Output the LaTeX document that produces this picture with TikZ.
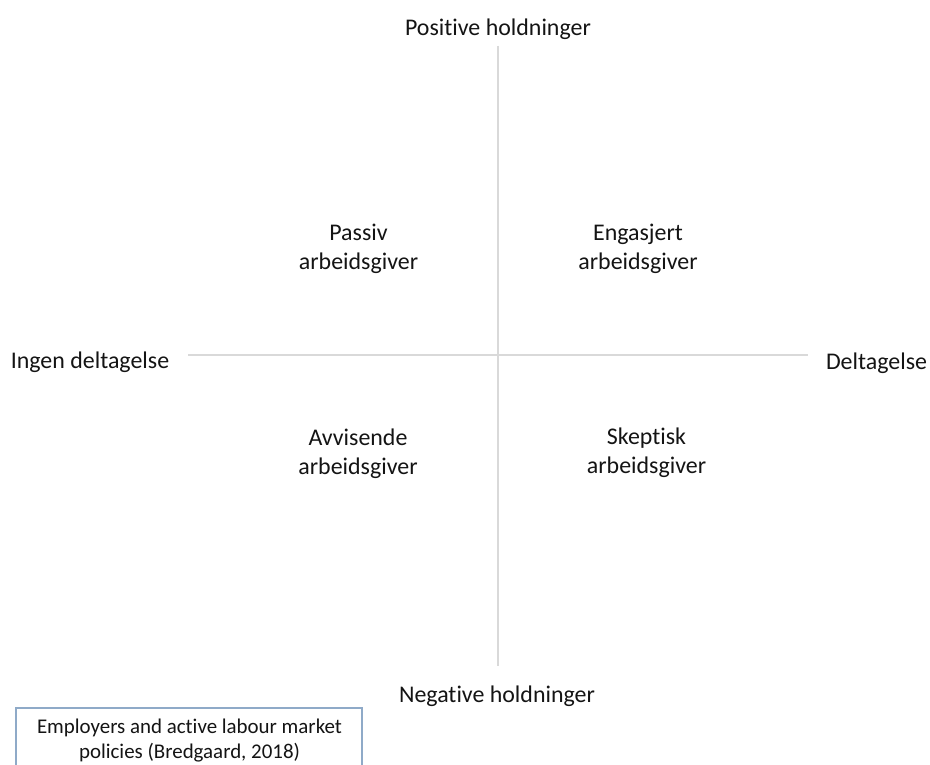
\documentclass[tikz,border=0pt]{standalone}
\usepackage{fontspec}
\setmainfont{Carlito}[Ligatures={NoCommon}]
\definecolor{axisgray}{RGB}{217,217,217}
\definecolor{boxblue}{RGB}{143,170,200}
\definecolor{txt}{RGB}{20,20,20}
\begin{document}
\begin{tikzpicture}[x=1bp,y=-1bp,
  lbl/.style={font=\fontsize{24}{29}\selectfont, text=txt, inner sep=0pt, anchor=base, align=center},
  small/.style={font=\fontsize{21}{25}\selectfont, text=txt, inner sep=0pt, anchor=base, align=center},
  axisline/.style={draw=axisgray, line width=2bp},
  srcbox/.style={draw=boxblue, line width=1.3bp}]
\clip (0,0) rectangle (930,765);
\fill[white] (0,0) rectangle (930,765);
% axes
\coordinate (top) at (498,46);
\coordinate (bot) at (498,666);
\coordinate (left) at (188,355);
\coordinate (right) at (808,355);
\draw[axisline] (top) -- (bot);
\draw[axisline] (left) -- (right);
% axis labels
\node[lbl] (pos) at (498,36) {Positive holdninger};
\node[lbl] (neg) at (497,702.5) {Negative holdninger};
\node[lbl] (ingen) at (90,368.3) {Ingen deltagelse};
\node[lbl] (delt) at (876.5,369) {Deltagelse};
% quadrants (base anchor = last line)
\node[lbl] (passiv) at (358.5,269.3) {Passiv\\arbeidsgiver};
\node[lbl] (engasjert) at (638,269.3) {Engasjert\\arbeidsgiver};
\node[lbl] (avvisende) at (358,474.5) {Avvisende\\arbeidsgiver};
\node[lbl] (skeptisk) at (646.5,473.5) {Skeptisk\\arbeidsgiver};
% source box
\draw[srcbox] (16,708) rectangle (362,790);
\node[small] (src) at (189.5,758.3) {Employers and active labour market\\policies (Bredgaard, 2018)};
\end{tikzpicture}
\end{document}
